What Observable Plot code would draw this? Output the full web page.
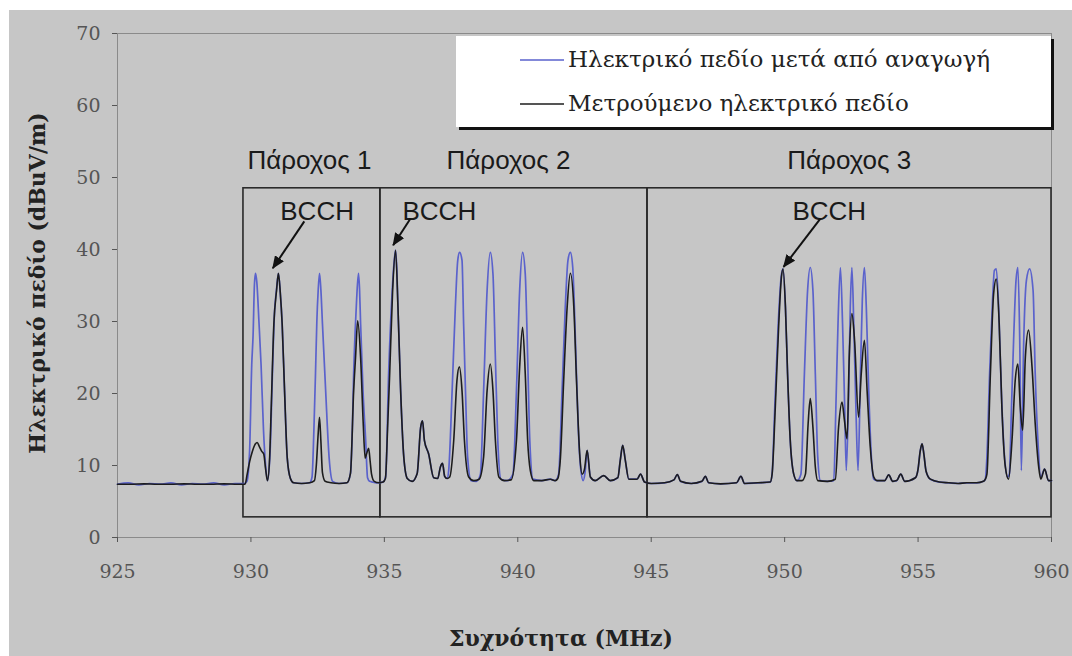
<!DOCTYPE html>
<html><head><meta charset="utf-8">
<script src="https://cdn.jsdelivr.net/npm/d3@7"></script>
<script src="https://cdn.jsdelivr.net/npm/@observablehq/plot@0.6"></script>
<style>
html,body{margin:0;padding:0;background:#fff;}
#wrap{position:absolute;left:9px;top:10px;width:1063px;height:646px;background:#c6c6c6;}
</style></head><body><div id="wrap"></div>
<script>
// [frequency MHz, field dBuV/m]
const reducedField = [
[925.0,7.4],[925.4,7.6],[925.8,7.3],[926.2,7.5],[926.6,7.4],[927.0,7.6],[927.4,7.3],[927.8,7.5],[928.2,7.4],[928.6,7.6],[929.0,7.3],[929.4,7.5],[929.75,7.5],
[929.85,7.8],[929.95,12],[930.03,24],[930.08,28],[930.13,35],[930.17,36.7],[930.22,35.5],[930.3,30],[930.38,24],[930.47,15],[930.55,10],[930.62,7.9],
[930.72,12],[930.8,22],[930.88,31],[930.96,34.5],[931.03,36.7],[931.1,34],[931.17,29.7],[931.26,20.4],[931.36,11.1],[931.48,8.2],[931.6,7.6],[931.9,7.5],[932.2,7.6],
[932.29,8.4],[932.36,15],[932.42,22.8],[932.47,30],[932.52,34.3],[932.57,36.7],[932.62,34.5],[932.68,29.7],[932.8,20.4],[932.93,11.1],[933.06,7.8],[933.3,7.5],[933.6,7.6],
[933.73,8.9],[933.8,15],[933.85,22.8],[933.91,29],[933.96,33],[934.03,36.7],[934.07,34.5],[934.11,29.7],[934.2,20.4],[934.3,13.5],[934.37,8.3],[934.45,7.8],[934.55,7.7],[934.7,7.6],[934.95,7.7],
[935.05,8.5],[935.16,22.8],[935.28,33.3],[935.36,38],[935.42,39.9],[935.47,37],[935.51,32],[935.61,20.4],[935.73,11.1],[935.86,8.2],[936.04,7.8],
[936.23,8.9],[936.36,15.3],[936.43,16.2],[936.5,13.5],[936.66,11.6],[936.85,8.3],[937.0,8.2],[937.1,9.8],[937.18,10.3],[937.26,8.5],[937.35,8.2],
[937.41,9.3],[937.54,20.4],[937.66,32],[937.75,38.5],[937.82,39.6],[937.91,38.5],[937.97,29.7],[938.04,20.4],[938.12,11.2],[938.25,7.9],[938.45,7.8],
[938.6,8.8],[938.72,20.4],[938.85,34.3],[938.97,39.6],[939.07,36.6],[939.16,25],[939.25,13.5],[939.37,8.1],[939.6,7.9],
[939.82,8.8],[939.95,20.4],[940.07,34.3],[940.18,39.6],[940.28,36.6],[940.37,25],[940.45,13.5],[940.57,8.1],[940.9,7.9],[941.22,8.1],[941.4,7.9],
[941.53,8.8],[941.66,20.4],[941.78,32],[941.88,38.5],[941.97,39.6],[942.06,37.5],[942.16,27.4],[942.26,15.8],[942.35,9.8],[942.45,7.9],
[942.52,9],[942.6,12.1],[942.72,8.4],[942.9,7.9],[943.22,8.6],[943.47,7.9],[943.75,8.3],[943.84,10.7],[943.93,12.8],[944.03,10.7],[944.16,8.1],[944.47,8.1],[944.6,8.8],[944.75,7.7],
[945.0,7.5],[945.5,7.6],[945.85,8.0],[945.98,8.75],[946.1,7.8],[946.5,7.5],[946.9,7.8],[947.03,8.5],[947.15,7.6],[947.6,7.45],[948.2,7.6],[948.36,8.5],[948.5,7.5],[949.0,7.6],[949.46,7.7],
[949.53,8.8],[949.63,18.1],[949.76,29.7],[949.87,36.2],[949.94,37.3],[950.03,32],[950.11,22.7],[950.21,13.5],[950.34,8.8],[950.46,7.9],
[950.61,8.8],[950.74,22.7],[950.86,34.3],[950.96,37.5],[951.06,34.3],[951.15,22.7],[951.24,11.2],[951.34,7.9],[951.6,7.8],
[951.84,7.9],[951.92,18.1],[952.0,29.7],[952.09,37.5],[952.17,29.7],[952.25,18.1],[952.31,9.3],[952.4,20.4],[952.46,32],[952.52,37.5],[952.59,29.7],[952.67,18.1],[952.75,9.3],
[952.84,22.7],[952.91,32.9],[952.99,37.5],[953.06,32],[953.15,20.4],[953.25,11.2],[953.34,8.1],[953.46,7.9],
[953.75,7.9],[953.9,8.7],[954.05,7.8],[954.2,7.9],[954.35,8.8],[954.5,7.8],[954.9,8.3],[955.0,9.5],[955.08,12],[955.15,13],[955.22,11.5],[955.3,9.2],[955.46,8.1],
[955.8,7.7],[956.15,7.6],[956.5,7.5],[956.83,7.6],[957.2,7.6],[957.45,7.8],
[957.52,8.1],[957.58,11.2],[957.68,22.7],[957.79,32.9],[957.86,37.1],[957.93,37.3],[958.02,32],[958.12,20.4],[958.24,11.2],[958.36,8.4],[958.42,8.8],
[958.5,18],[958.58,27.4],[958.67,35.7],[958.74,37.5],[958.81,27.4],[958.87,9.3],[958.96,27.4],[959.06,35.7],[959.18,37.3],[959.31,34.3],[959.39,22.7],[959.49,13.5],[959.6,8.4],
[959.74,9.5],[959.89,7.9],[960.0,7.9]
];
const measuredField = [
[925.0,7.4],[925.5,7.4],[926.0,7.45],[926.5,7.4],[927.0,7.4],[927.5,7.45],[928.0,7.4],[928.5,7.4],[929.0,7.45],[929.5,7.4],[929.78,7.4],
[929.86,8.8],[929.95,10.5],[930.05,11.9],[930.15,12.9],[930.23,13.2],[930.32,12.6],[930.4,12],[930.48,11.6],[930.55,9.5],[930.62,7.9],
[930.7,11],[930.76,18],[930.86,29.7],[930.96,34.3],[931.03,36.7],[931.1,34],[931.17,29.7],[931.26,20.4],[931.36,11.1],[931.48,8.2],[931.6,7.6],[931.9,7.5],[932.2,7.6],
[932.38,7.9],[932.45,10],[932.52,14.4],[932.57,16.7],[932.62,13.5],[932.68,9],[932.78,7.8],[933.0,7.6],[933.3,7.5],[933.6,7.6],
[933.73,8.9],[933.85,20.4],[933.92,25],[934.0,30.1],[934.11,25],[934.21,15.7],[934.28,11],[934.34,11.7],[934.41,12.4],[934.47,10.5],[934.52,8.8],[934.62,7.8],[934.8,7.6],[934.95,7.7],
[935.04,8.2],[935.12,15],[935.2,22.8],[935.31,34.3],[935.42,39.9],[935.51,32],[935.61,20.4],[935.73,11.1],[935.86,8.2],[936.04,7.8],
[936.23,8.9],[936.36,15.3],[936.43,16.2],[936.5,13.5],[936.66,11.6],[936.85,8.3],[937.0,8.2],[937.1,9.8],[937.18,10.3],[937.26,8.5],[937.35,8.2],
[937.45,8.4],[937.6,13.5],[937.72,21.8],[937.81,23.7],[937.91,20.4],[938.0,13.5],[938.16,8.4],[938.35,7.9],
[938.55,8.1],[938.72,11.2],[938.85,20.4],[938.97,24.1],[939.07,20.4],[939.16,13.5],[939.29,8.4],[939.5,7.9],
[939.75,8.0],[939.95,13.5],[940.07,23.7],[940.18,29.2],[940.28,22.7],[940.37,13.5],[940.47,9.3],[940.6,7.9],[940.9,7.9],[941.22,8.1],[941.4,7.9],
[941.5,8.2],[941.6,11.2],[941.72,21.8],[941.85,32],[941.97,36.7],[942.1,32],[942.2,21.8],[942.32,11.6],[942.41,8.8],
[942.5,9.5],[942.6,12.1],[942.72,8.4],[942.9,7.9],[943.22,8.6],[943.47,7.9],[943.75,8.3],[943.84,10.7],[943.93,12.8],[944.03,10.7],[944.16,8.1],[944.47,8.1],[944.6,8.8],[944.75,7.7],
[945.0,7.5],[945.5,7.6],[945.85,8.0],[945.98,8.75],[946.1,7.8],[946.5,7.5],[946.9,7.8],[947.03,8.5],[947.15,7.6],[947.6,7.45],[948.2,7.6],[948.36,8.5],[948.5,7.5],[949.0,7.6],[949.46,7.7],
[949.53,8.8],[949.65,18.1],[949.78,29.7],[949.88,36.2],[949.94,37.3],[950.03,32],[950.11,22.7],[950.21,13.5],[950.34,8.8],[950.46,7.9],
[950.65,7.9],[950.78,8.8],[950.88,15.8],[950.96,19.3],[951.06,15.3],[951.15,9.8],[951.24,7.9],[951.6,7.8],
[951.9,8.1],[952.02,15.3],[952.15,18.8],[952.24,16.3],[952.34,13.7],[952.42,25],[952.52,31.1],[952.62,27.4],[952.77,16.7],[952.87,22.7],[952.99,27.4],[953.09,20.4],[953.21,12.5],[953.34,8.4],[953.46,7.9],
[953.75,7.9],[953.9,8.7],[954.05,7.8],[954.2,7.9],[954.35,8.8],[954.5,7.8],[954.9,8.3],[955.0,9.5],[955.08,12],[955.15,13],[955.22,11.5],[955.3,9.2],[955.46,8.1],
[955.8,7.7],[956.15,7.6],[956.5,7.5],[956.83,7.6],[957.2,7.6],[957.45,7.8],
[957.52,8.1],[957.58,8.8],[957.71,22.7],[957.83,33.8],[957.93,35.9],[958.04,29.7],[958.14,18.1],[958.27,9.8],[958.39,8.1],
[958.52,13.5],[958.64,21.8],[958.74,24.1],[958.83,18.1],[958.92,14.9],[959.02,25],[959.14,28.8],[959.27,23.7],[959.39,15.8],[959.52,9.8],[959.6,8.1],
[959.74,9.5],[959.89,7.9],[960.0,7.9]
];
const seriesNames = ["Ηλεκτρικό πεδίο μετά από αναγωγή", "Μετρούμενο ηλεκτρικό πεδίο"];
const seriesColors = ["#5a62cc", "#1c1c1c"];
const xTicks = [925, 930, 935, 940, 945, 950, 955, 960];
const yTicks = [0, 10, 20, 30, 40, 50, 60, 70];
const providerNames = ["Πάροχος 1", "Πάροχος 2", "Πάροχος 3"];
const providerFrom = [929.72, 934.85, 944.86];
const providerTo = [934.85, 944.86, 960];
const bcchLabel = "BCCH";
const bcchPeakFreq = [931.03, 935.42, 949.94];

// annotation layout (data coordinates)
const provLabelX = [929.87, 937.33, 950.1];
const bcchLabelX = [931.1, 935.68, 950.29];
const arrowFromX = [932.0, 935.98, 951.34], arrowFromY = [43.9, 44.3, 44.3];
const arrowToX = [930.82, 935.33, 949.96], arrowToY = [37.4, 40.6, 37.6];

const toRows = s => s.map(([f, v]) => ({f, v}));
const boxes = providerNames.map((n, i) => ({n, x1: providerFrom[i], x2: providerTo[i]}));
const arrows = bcchPeakFreq.map((p, i) => ({x1: arrowFromX[i], y1: arrowFromY[i], x2: arrowToX[i], y2: arrowToY[i]}));

const serif = "DejaVu Serif";
const chart = Plot.plot({
  width: 1063, height: 646,
  marginLeft: 108, marginTop: 23, marginRight: 21, marginBottom: 119,
  style: {background: "#c6c6c6", fontFamily: serif},
  x: {domain: [925, 960]},
  y: {domain: [0, 70]},
  marks: [
    Plot.frame({stroke: "#8a8a8a"}),
    Plot.axisX({ticks: xTicks, tickSize: 5, tickPadding: 22, fontSize: 19, fontFamily: serif, color: "#555", label: null, tickFormat: d => String(d)}),
    Plot.axisY({ticks: yTicks, tickSize: 5, tickPadding: 12, fontSize: 19, fontFamily: serif, color: "#555", label: null}),
    Plot.rect(boxes, {x1: "x1", x2: "x2", y1: 2.8, y2: 48.5, fill: "none", stroke: "#2a2a2a", strokeWidth: 1.6}),
    Plot.line(toRows(reducedField), {x: "f", y: "v", stroke: seriesColors[0], strokeWidth: 1.7, curve: "monotone-x"}),
    Plot.line(toRows(measuredField), {x: "f", y: "v", stroke: seriesColors[1], strokeWidth: 1.6, curve: "monotone-x"}),
    Plot.text(providerNames, {x: provLabelX, y: 52.4, text: d => d, textAnchor: "start", fontFamily: "Liberation Sans", fontSize: 26, fill: "#1a1a1a"}),
    Plot.text(bcchLabelX, {x: d => d, y: 45.3, text: () => bcchLabel, textAnchor: "start", fontFamily: "Liberation Sans", fontSize: 26, fill: "#1a1a1a"}),
    Plot.link(arrows, {x1: "x1", y1: "y1", x2: "x2", y2: "y2", stroke: "#111", strokeWidth: 2})
  ]
});

const svg = d3.select(chart);
svg.selectAll('g[aria-label="x-axis tick label"] text, g[aria-label="y-axis tick label"] text')
  .style("font-family", serif);
// arrow heads
const defs = svg.append("defs");
defs.append("marker").attr("id", "bcchHead").attr("markerUnits", "userSpaceOnUse")
  .attr("viewBox", "0 0 12 10").attr("markerWidth", 13).attr("markerHeight", 11)
  .attr("refX", 11).attr("refY", 5).attr("orient", "auto")
  .append("path").attr("d", "M0,0 L12,5 L0,10 z").attr("fill", "#111");
svg.selectAll('g[aria-label="link"] path').attr("marker-end", "url(#bcchHead)");

// legend (inside the plot, top right)
const lg = svg.append("g").attr("text-anchor", "start");
lg.append("rect").attr("x", 450).attr("y", 29).attr("width", 595).attr("height", 91).attr("fill", "#111");
lg.append("rect").attr("x", 447).attr("y", 26).attr("width", 595).attr("height", 91).attr("fill", "#fff");
seriesNames.forEach((name, i) => {
  const cy = 50 + i * 44;
  lg.append("line").attr("x1", 511).attr("x2", 555).attr("y1", cy).attr("y2", cy)
    .attr("stroke", seriesColors[i]).attr("stroke-width", 1.6);
  lg.append("text").attr("x", 559).attr("y", cy + 7).attr("text-anchor", "start").attr("font-family", "DejaVu Serif")
    .attr("font-size", 23).attr("fill", "#222").text(name);
});

// axis titles
svg.append("text").attr("transform", "translate(36,273) rotate(-90)").attr("text-anchor", "middle")
  .attr("font-family", "DejaVu Serif").attr("font-weight", "bold").attr("font-size", 22).attr("fill", "#222")
  .text("Ηλεκτρικό πεδίο (dBuV/m)");
svg.append("text").attr("x", 552).attr("y", 636).attr("text-anchor", "middle")
  .attr("font-family", "DejaVu Serif").attr("font-weight", "bold").attr("font-size", 22).attr("fill", "#222")
  .text("Συχνότητα (MHz)");

document.getElementById("wrap").appendChild(chart);
</script></body></html>
